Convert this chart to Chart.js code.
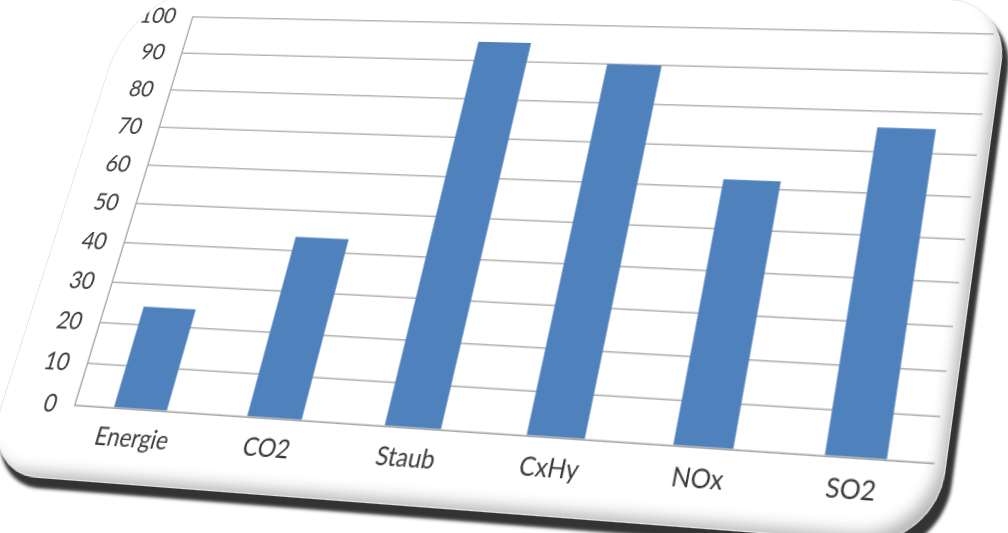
<!DOCTYPE html>
<html>
<head>
<meta charset="utf-8">
<script src="https://cdn.jsdelivr.net/npm/chart.js@4.4.1/dist/chart.umd.min.js"></script>
<style>
  html, body { margin: 0; padding: 0; background: #ffffff; overflow: hidden; width: 1008px; height: 533px; }
  #card {
    position: absolute; left: 0; top: 0;
    width: 916px; height: 486px;
    background: #ffffff;
    border-radius: 92px 60px 60px 60px;
    overflow: hidden;
    transform-origin: 0 0;
    box-shadow: 7px 9px 3px rgba(0,0,0,0.8), inset -12px -12px 14px -8px rgba(0,0,0,0.3);
    border: 1px solid #e6e6e6;
    box-sizing: border-box;
  }
  #c { position: absolute; left: 0; top: 0; }
</style>
</head>
<body>
<div id="card"><canvas id="c" width="916" height="486"></canvas></div>
<script>
const categories = ["Energie", "CO2", "Staub", "CxHy", "NOx", "SO2"];
const values = [24.5, 43.5, 95, 90, 62, 76];
const yTicks = [0, 10, 20, 30, 40, 50, 60, 70, 80, 90, 100];

const W = 916, H = 486;
const canvas = document.getElementById('c');
canvas.style.width = W + 'px';
canvas.style.height = H + 'px';

const chart = new Chart(canvas, {
  type: 'bar',
  data: {
    labels: categories,
    datasets: [{
      data: values,
      backgroundColor: '#4f81bd',
      borderWidth: 0,
      barPercentage: 0.4,
      categoryPercentage: 1.0
    }]
  },
  options: {
    responsive: false,
    animation: false,
    devicePixelRatio: 2,
    layout: { padding: { top: 8, right: 12, bottom: 0, left: 0 } },
    plugins: { legend: { display: false }, tooltip: { enabled: false } },
    scales: {
      x: {
        grid: { display: false, drawTicks: false },
        border: { display: true, color: '#a6a6a6', width: 1.5 },
        ticks: { padding: 13, color: '#3a3a3a', font: { family: 'Lato', size: 23 }, maxRotation: 0 },
        afterFit: (s) => { s.height = 68; }
      },
      y: {
        min: 0, max: 100,
        afterBuildTicks: (s) => { s.ticks = yTicks.map(v => ({ value: v })); },
        grid: { color: '#b4b4b4', lineWidth: 1.5, drawTicks: false },
        border: { display: true, color: '#a6a6a6', width: 1.5 },
        ticks: { padding: 19, color: '#3a3a3a', font: { family: 'Lato', size: 23 } },
        afterFit: (s) => { s.width = 76; }
      }
    }
  }
});

function solve(A, b) {
  const n = b.length;
  for (let i = 0; i < n; i++) {
    let p = i;
    for (let r = i + 1; r < n; r++) if (Math.abs(A[r][i]) > Math.abs(A[p][i])) p = r;
    [A[i], A[p]] = [A[p], A[i]]; [b[i], b[p]] = [b[p], b[i]];
    for (let r = i + 1; r < n; r++) {
      const f = A[r][i] / A[i][i];
      for (let c = i; c < n; c++) A[r][c] -= f * A[i][c];
      b[r] -= f * b[i];
    }
  }
  const x = new Array(n).fill(0);
  for (let i = n - 1; i >= 0; i--) {
    let s = b[i];
    for (let c = i + 1; c < n; c++) s -= A[i][c] * x[c];
    x[i] = s / A[i][i];
  }
  return x;
}

function applyPerspective() {
  const ca = chart.chartArea;
  const src = [[ca.left, ca.top], [ca.right, ca.top], [ca.right, ca.bottom], [ca.left, ca.bottom]];
  const dst = [[192, 16], [993, 33], [933, 462], [74, 404]];
  const A = [], B = [];
  for (let i = 0; i < 4; i++) {
    const [x, y] = src[i], [X, Y] = dst[i];
    A.push([x, y, 1, 0, 0, 0, -x * X, -y * X]); B.push(X);
    A.push([0, 0, 0, x, y, 1, -x * Y, -y * Y]); B.push(Y);
  }
  const [a, b, c, d, e, f, g, h] = solve(A, B);
  document.getElementById('card').style.transform =
    `matrix3d(${a},${d},0,${g},${b},${e},0,${h},0,0,1,0,${c},${f},0,1)`;
}
applyPerspective();
</script>
</body>
</html>
